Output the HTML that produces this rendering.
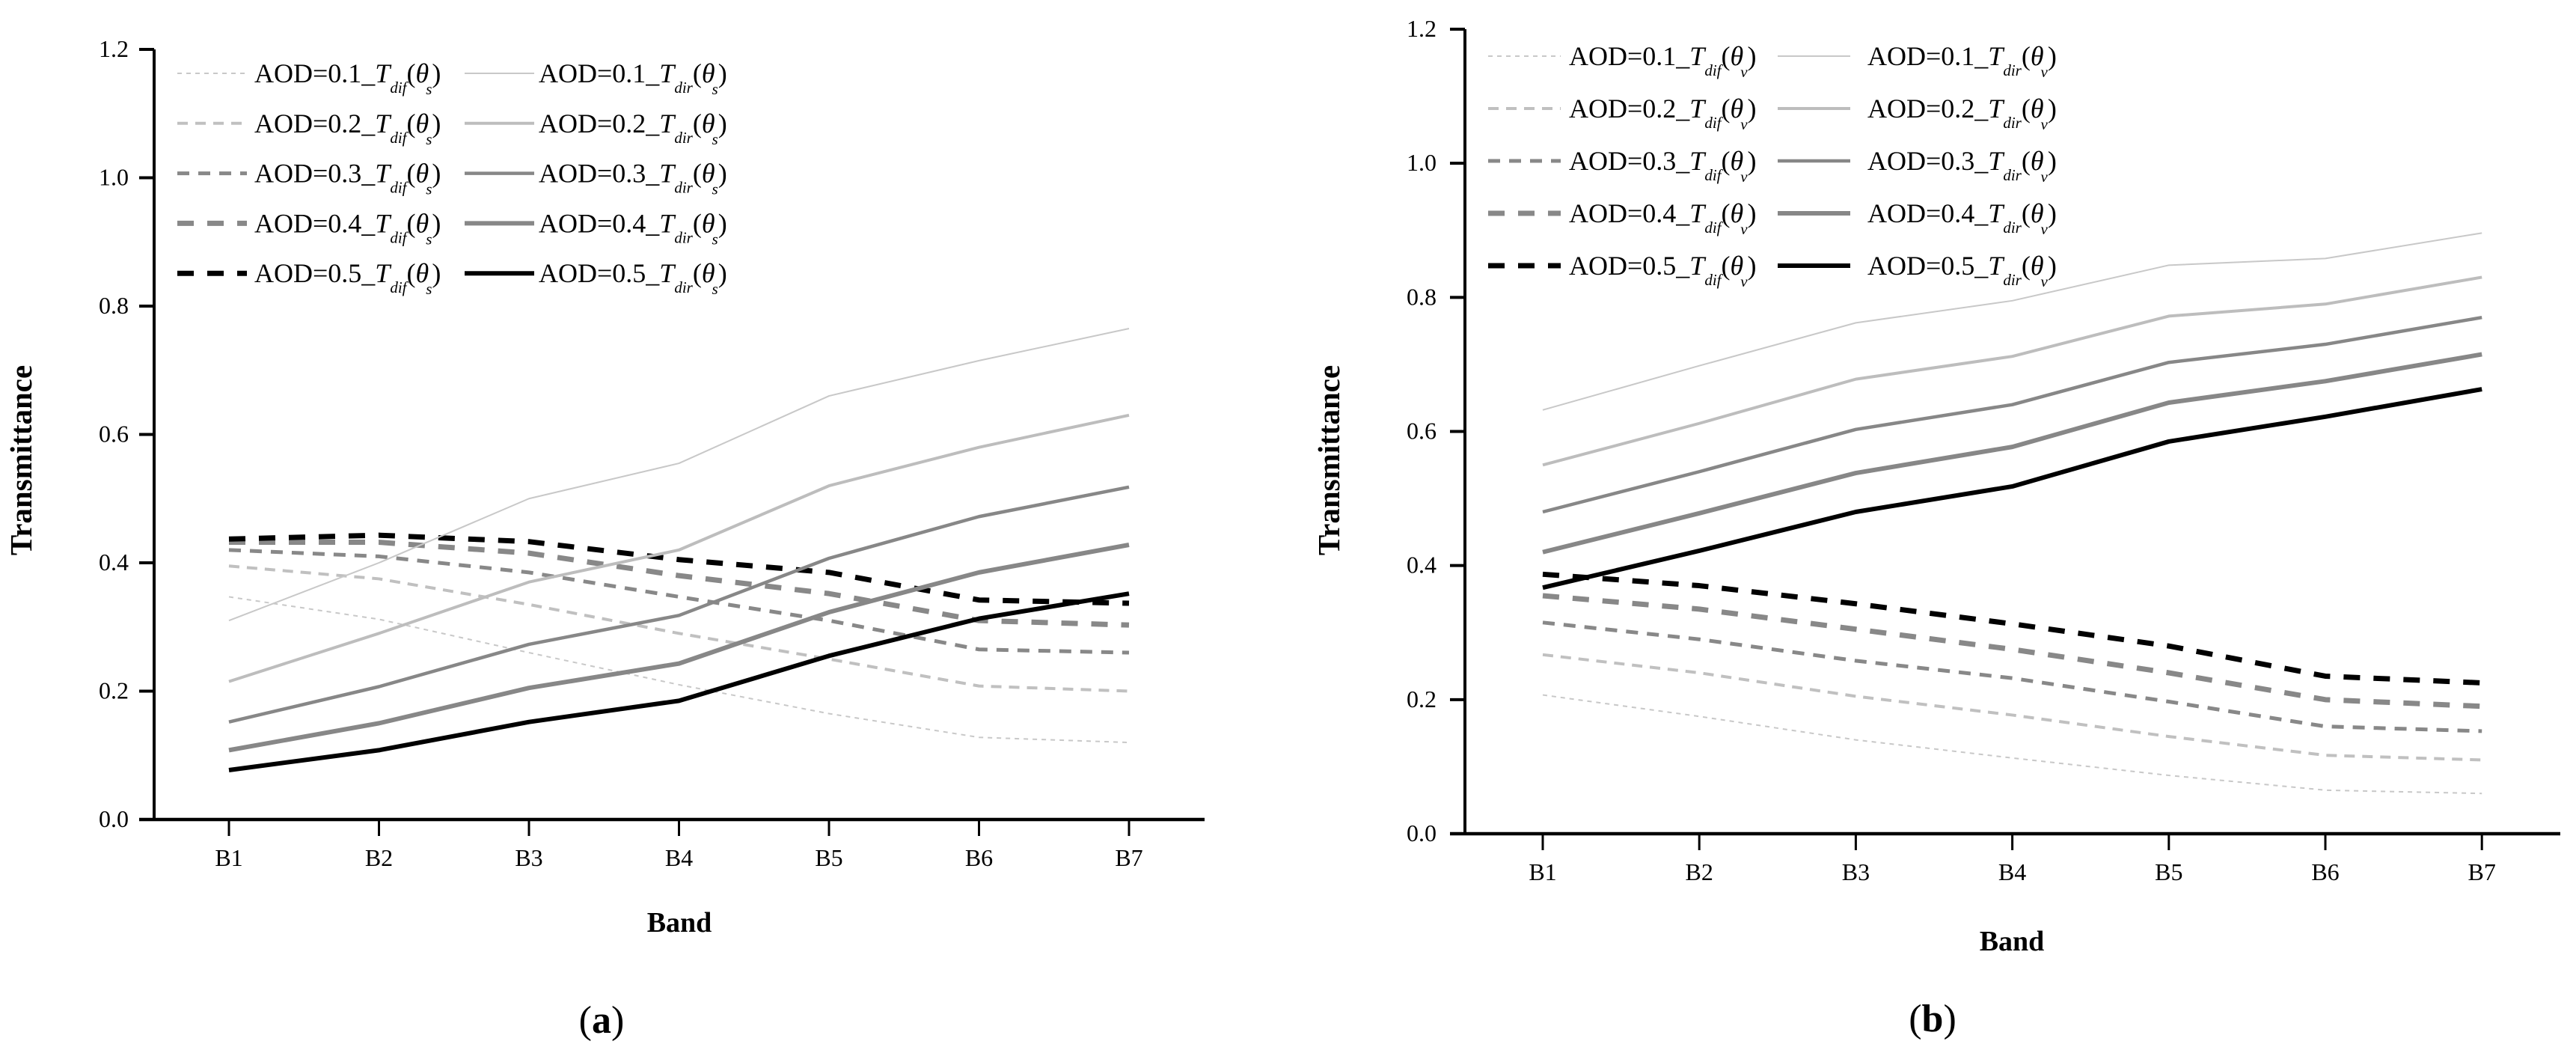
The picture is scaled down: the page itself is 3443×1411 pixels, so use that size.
<!DOCTYPE html>
<html><head><meta charset="utf-8"><style>
html,body{margin:0;padding:0;background:#fff;}
svg{display:block;font-family:"Liberation Serif",serif;}
</style></head><body>
<svg id="fig" width="3443" height="1411" viewBox="0 0 3443 1411"></svg>
<script>
const categories = ["B1","B2","B3","B4","B5","B6","B7"];
const yTicks = [0.0,0.2,0.4,0.6,0.8,1.0,1.2];
const aodLevels = ["0.1","0.2","0.3","0.4","0.5"];
// Panel (a)
const aDir01 = [0.31,0.40,0.50,0.555,0.66,0.715,0.765];
const aDir02 = [0.215,0.29,0.37,0.42,0.52,0.58,0.63];
const aDir03 = [0.152,0.207,0.273,0.318,0.407,0.472,0.518];
const aDir04 = [0.108,0.15,0.205,0.243,0.323,0.385,0.428];
const aDir05 = [0.077,0.108,0.152,0.185,0.255,0.313,0.352];
const aDif01 = [0.347,0.312,0.26,0.21,0.165,0.128,0.12];
const aDif02 = [0.395,0.375,0.335,0.29,0.25,0.208,0.20];
const aDif03 = [0.42,0.41,0.385,0.347,0.31,0.265,0.26];
const aDif04 = [0.432,0.432,0.415,0.38,0.352,0.31,0.303];
const aDif05 = [0.437,0.443,0.433,0.405,0.385,0.342,0.337];
// Panel (b)
const bDir01 = [0.632,0.698,0.762,0.795,0.848,0.858,0.896];
const bDir02 = [0.55,0.612,0.678,0.712,0.772,0.79,0.83];
const bDir03 = [0.48,0.54,0.603,0.64,0.703,0.73,0.77];
const bDir04 = [0.42,0.478,0.538,0.577,0.643,0.675,0.715];
const bDir05 = [0.367,0.422,0.48,0.518,0.585,0.622,0.663];
const bDif01 = [0.207,0.175,0.14,0.113,0.087,0.065,0.06];
const bDif02 = [0.267,0.24,0.205,0.177,0.145,0.117,0.11];
const bDif03 = [0.315,0.29,0.258,0.232,0.197,0.16,0.153];
const bDif04 = [0.355,0.335,0.305,0.275,0.24,0.2,0.19];
const bDif05 = [0.387,0.37,0.343,0.313,0.28,0.235,0.225];

const NS="http://www.w3.org/2000/svg";
const svg=document.getElementById('fig');
function mk(tag,attrs,parent){const e=document.createElementNS(NS,tag);for(const k in attrs)e.setAttribute(k,attrs[k]);(parent||svg).appendChild(e);return e;}

const difStyles=[
 {c:"#c8c8c8",w:2,d:"6 6"},{c:"#c0c0c0",w:4,d:"14 10"},{c:"#888",w:5,d:"16 12"},{c:"#888",w:7,d:"22 18"},{c:"#000",w:7,d:"22 18"}];
const dirStyles=[
 {c:"#c8c8c8",w:2},{c:"#bdbdbd",w:4},{c:"#878787",w:4.5},{c:"#878787",w:6},{c:"#000",w:6}];

function panel(p){
  const g=mk('g',{});
  
  
  const yS=v=>p.y0-(v/1.2)*(p.y0-p.y12);
  const xS=i=>p.x1+i*p.step;
  const ya=mk('line',{x1:p.ax,y1:p.y12,x2:p.ax,y2:p.y0+2,stroke:"#000","stroke-width":4},g);
  
  const xa=mk('line',{x1:p.ax-20,y1:p.y0,x2:p.xend,y2:p.y0,stroke:"#000","stroke-width":4.5},g);
  
  yTicks.forEach(v=>{
    const y=yS(v);
    mk('line',{x1:p.ax-20,y1:y,x2:p.ax,y2:y,stroke:"#000","stroke-width":4},g);
    const t=mk('text',{x:p.tlx,y:y+10,"text-anchor":"end","font-size":32},g);
    t.textContent=v.toFixed(1);
    
  });
  categories.forEach((c,i)=>{
    const x=xS(i);
    mk('line',{x1:x,y1:p.y0,x2:x,y2:p.y0+22,stroke:"#000","stroke-width":3},g);
    const t=mk('text',{x:x,y:p.y0+62,"text-anchor":"middle","font-size":32},g);
    t.textContent=c;
    
  });
  const yt=mk('text',{x:p.ytx,y:p.yty,"text-anchor":"middle","font-size":41,"font-weight":"bold",transform:`rotate(-90 ${p.ytx} ${p.yty})`},g);
  yt.textContent="Transmittance";
  
  const xt=mk('text',{x:p.xtx,y:p.xty,"text-anchor":"middle","font-size":38,"font-weight":"bold"},g);
  xt.textContent="Band";
  
  const lab=mk('text',{x:p.labx,y:p.laby,"text-anchor":"middle","font-size":52},g);
  lab.innerHTML='(<tspan font-weight="bold">'+p.letter+'</tspan>)';
  
  function draw(vals,st,nm){
    const pts=vals.map((v,i)=>xS(i)+","+yS(v)).join(" ");
    const a={points:pts,fill:"none",stroke:st.c,"stroke-width":st.w,"stroke-linejoin":"round"};
    if(st.d)a["stroke-dasharray"]=st.d;
    const l=mk('polyline',a,g);
    
    
  }
  p.dif.forEach((s,k)=>draw(s,difStyles[k],'series-dif-aod-'+aodLevels[k]));
  p.dir.forEach((s,k)=>draw(s,dirStyles[k],'series-dir-aod-'+aodLevels[k]));
  const lg=mk('g',{},g);
  
  aodLevels.forEach((a,k)=>{
    const y=p.legy+k*p.legstep;
    [[0,"dif",difStyles[k]],[1,"dir",dirStyles[k]]].forEach(([col,kind,st])=>{
      const lx=p.legx[col];
      const la={x1:lx,y1:y,x2:lx+p.leglen,y2:y,stroke:st.c,"stroke-width":st.w};
      if(st.d)la["stroke-dasharray"]=st.d;
      mk('line',la,lg);
      const t=mk('text',{x:p.legtx[col],y:y+12,"font-size":36},lg);
      t.innerHTML='AOD='+a+'_<tspan font-style="italic">T</tspan><tspan font-style="italic" font-size="21" dy="14">'+kind+'</tspan><tspan dy="-14">(</tspan><tspan font-style="italic">θ</tspan><tspan font-style="italic" font-size="21" dy="16" dx="-4">'+p.sub+'</tspan><tspan dy="-16">)</tspan>';
      
      
    });
  });
}

panel({name:'panel-a',letter:'a',sub:'s',ax:206,y0:1095,y12:66,x1:306,step:200.5,xend:1610,tlx:172,
  ytx:42,yty:615,xtx:908,xty:1245,labx:804,laby:1380,
  legx:[237,621],leglen:93,legtx:[340,720],legy:98,legstep:66.8,
  dir:[aDir01,aDir02,aDir03,aDir04,aDir05],dif:[aDif01,aDif02,aDif03,aDif04,aDif05]});
panel({name:'panel-b',letter:'b',sub:'v',ax:1958,y0:1114,y12:39,x1:2062,step:209.2,xend:3422,tlx:1920,
  ytx:1790,yty:615,xtx:2689,xty:1270,labx:2583,laby:1378,
  legx:[1989,2376],leglen:97,legtx:[2097,2496],legy:75,legstep:70,
  dir:[bDir01,bDir02,bDir03,bDir04,bDir05],dif:[bDif01,bDif02,bDif03,bDif04,bDif05]});
</script>
</body></html>
